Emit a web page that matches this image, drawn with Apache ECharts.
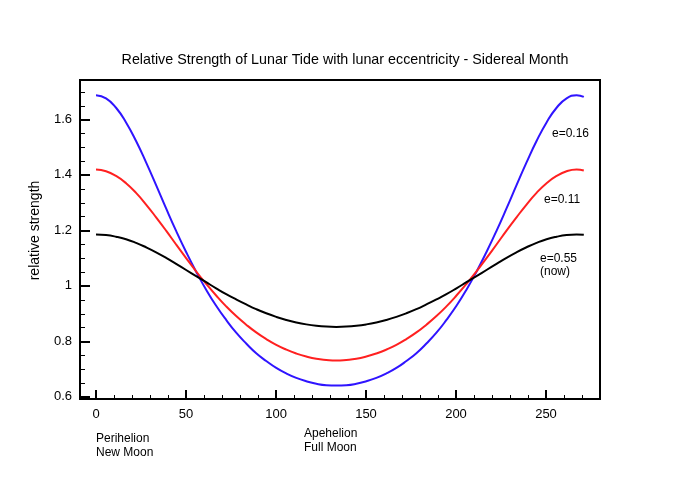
<!DOCTYPE html>
<html>
<head>
<meta charset="utf-8">
<script src="https://cdn.jsdelivr.net/npm/echarts@6/dist/echarts.min.js"></script>
<style>
  html, body { margin: 0; padding: 0; background: #fff; }
  #chart { width: 680px; height: 480px; }
</style>
</head>
<body>
<div id="chart"></div>
<script>
// sample positions along the month (x axis)
var days = [0, 5.56, 11.13, 16.69, 22.25, 27.81, 33.38, 38.94, 44.5, 50.06, 55.63, 61.19, 66.75,
	72.31, 77.88, 83.44, 89, 94.56, 100.13, 105.69, 111.25, 116.81, 122.38, 127.94, 133.5,
	139.06, 144.63, 150.19, 155.75, 161.31, 166.88, 172.44, 178, 183.56, 189.13, 194.69, 200.25,
	205.81, 211.38, 216.94, 222.5, 228.06, 233.63, 239.19, 244.75, 250.31, 255.88, 261.44, 267, 271];

// relative strength for each eccentricity
var e016 = [1.687, 1.676, 1.642, 1.589, 1.522, 1.445, 1.363, 1.279, 1.198, 1.122, 1.051, 0.986, 0.928,
	0.877, 0.831, 0.792, 0.757, 0.729, 0.704, 0.684, 0.668, 0.656, 0.647, 0.642, 0.641,
	0.642, 0.647, 0.656, 0.668, 0.684, 0.704, 0.729, 0.757, 0.792, 0.831, 0.877, 0.928,
	0.986, 1.051, 1.122, 1.198, 1.279, 1.363, 1.445, 1.522, 1.589, 1.642, 1.676, 1.687, 1.681];
var e011 = [1.419, 1.413, 1.396, 1.370, 1.335, 1.293, 1.247, 1.199, 1.149, 1.100, 1.052, 1.007, 0.965,
	0.926, 0.891, 0.860, 0.832, 0.808, 0.787, 0.770, 0.756, 0.745, 0.737, 0.733, 0.731,
	0.733, 0.737, 0.745, 0.756, 0.770, 0.787, 0.808, 0.832, 0.860, 0.891, 0.926, 0.965,
	1.007, 1.052, 1.100, 1.149, 1.199, 1.247, 1.293, 1.335, 1.370, 1.396, 1.413, 1.419, 1.416];
var e055 = [1.185, 1.183, 1.177, 1.168, 1.155, 1.139, 1.121, 1.101, 1.079, 1.057, 1.035, 1.013, 0.991,
	0.970, 0.951, 0.933, 0.916, 0.901, 0.888, 0.877, 0.868, 0.861, 0.856, 0.853, 0.852,
	0.853, 0.856, 0.861, 0.868, 0.877, 0.888, 0.901, 0.916, 0.933, 0.951, 0.970, 0.991,
	1.013, 1.035, 1.057, 1.079, 1.101, 1.121, 1.139, 1.155, 1.168, 1.177, 1.183, 1.185, 1.184];

// tick positions
var xMajor = [0, 50, 100, 150, 200, 250];
var xMinor = [10, 20, 30, 40, 60, 70, 80, 90, 110, 120, 130, 140, 160, 170, 180, 190,
	210, 220, 230, 240, 260, 270];
var yMajor = [0.6, 0.8, 1, 1.2, 1.4, 1.6];
var yMinor = [0.65, 0.7, 0.75, 0.85, 0.9, 0.95, 1.05, 1.1, 1.15, 1.25, 1.3, 1.35,
	1.45, 1.5, 1.55, 1.65, 1.7];

var font = '"Liberation Sans", Arial, Helvetica, sans-serif';

var pairs = vals => vals.map((v, i) => [days[i], v]);

var chart = echarts.init(document.getElementById('chart'), null, { renderer: 'canvas' });

var xRange = { min: -8.9, max: 280 };
var yRange = { min: 0.592, max: 1.742 };

var option = {
	animation: false,
	backgroundColor: '#fff',
	title: {
		text: 'Relative Strength of Lunar Tide with lunar eccentricity - Sidereal Month',
		left: 340,
		top: 48,
		textAlign: 'center',
		textStyle: { fontFamily: font, fontSize: 14.3, fontWeight: 'normal', color: '#000' }
	},
	grid: {
		left: 80, right: 80, top: 80, bottom: 81,
		show: true, borderColor: '#000', borderWidth: 2, backgroundColor: 'transparent'
	},
	xAxis: [{
		type: 'value', min: xRange.min, max: xRange.max, position: 'bottom',
		axisLine: { show: false, onZero: false },
		splitLine: { show: false },
		axisTick: { show: true, inside: true, length: 9, customValues: xMajor, lineStyle: { color: '#000', width: 2 } },
		axisLabel: { customValues: xMajor, margin: 9, fontFamily: font, fontSize: 13, color: '#000' }
	}, {
		// short ticks only
		type: 'value', min: xRange.min, max: xRange.max, position: 'bottom',
		axisLine: { show: false, onZero: false },
		splitLine: { show: false },
		axisTick: { show: true, inside: true, length: 4, customValues: xMinor, lineStyle: { color: '#000', width: 1 } },
		axisLabel: { show: false }
	}],
	yAxis: {
		type: 'value', min: yRange.min, max: yRange.max, position: 'left',
		name: 'relative strength',
		nameLocation: 'middle',
		nameGap: 38,
		nameTextStyle: { fontFamily: font, fontSize: 14, color: '#000', padding: [0, 0, 0, 18] },
		axisLine: { show: false, onZero: false },
		splitLine: { show: false },
		axisTick: { show: true, inside: true, length: 10, customValues: yMajor, lineStyle: { color: '#000', width: 2 } },
		axisLabel: { customValues: yMajor, margin: 8, fontFamily: font, fontSize: 13, color: '#000' }
	},
	series: [{
		name: 'e=0.16', type: 'line', smooth: true, showSymbol: false,
		lineStyle: { color: '#2f14ff', width: 2 },
		data: pairs(e016)
	}, {
		name: 'e=0.11', type: 'line', smooth: true, showSymbol: false,
		lineStyle: { color: '#ff2020', width: 2 },
		data: pairs(e011)
	}, {
		name: 'e=0.55 (now)', type: 'line', smooth: true, showSymbol: false,
		lineStyle: { color: '#000', width: 2 },
		data: pairs(e055)
	}, {
		// short y ticks, placed through the y scale
		type: 'custom', silent: true, clip: false,
		data: yMinor.map(v => [xRange.min, v]),
		renderItem: (params, api) => {
			var p = api.coord([api.value(0), api.value(1)]);
			var y = Math.round(p[1]) + 0.5;
			return {
				type: 'line',
				shape: { x1: p[0], y1: y, x2: p[0] + 5, y2: y },
				style: { stroke: '#000', lineWidth: 1 }
			};
		}
	}],
	graphic: [
		{ type: 'text', left: 552, top: 128, style: { text: 'e=0.16', font: '12px ' + font, fill: '#000' } },
		{ type: 'text', left: 544, top: 194, style: { text: 'e=0.11', font: '12px ' + font, fill: '#000' } },
		{ type: 'text', left: 540, top: 252, style: { text: 'e=0.55\n(now)', font: '12px ' + font, fill: '#000', lineHeight: 13 } },
		{ type: 'text', left: 96, top: 431, style: { text: 'Perihelion\nNew Moon', font: '12px ' + font, fill: '#000', lineHeight: 14.5 } },
		{ type: 'text', left: 304, top: 427, style: { text: 'Apehelion\nFull Moon', font: '12px ' + font, fill: '#000', lineHeight: 14 } }
	]
};

chart.setOption(option);
</script>
</body>
</html>
